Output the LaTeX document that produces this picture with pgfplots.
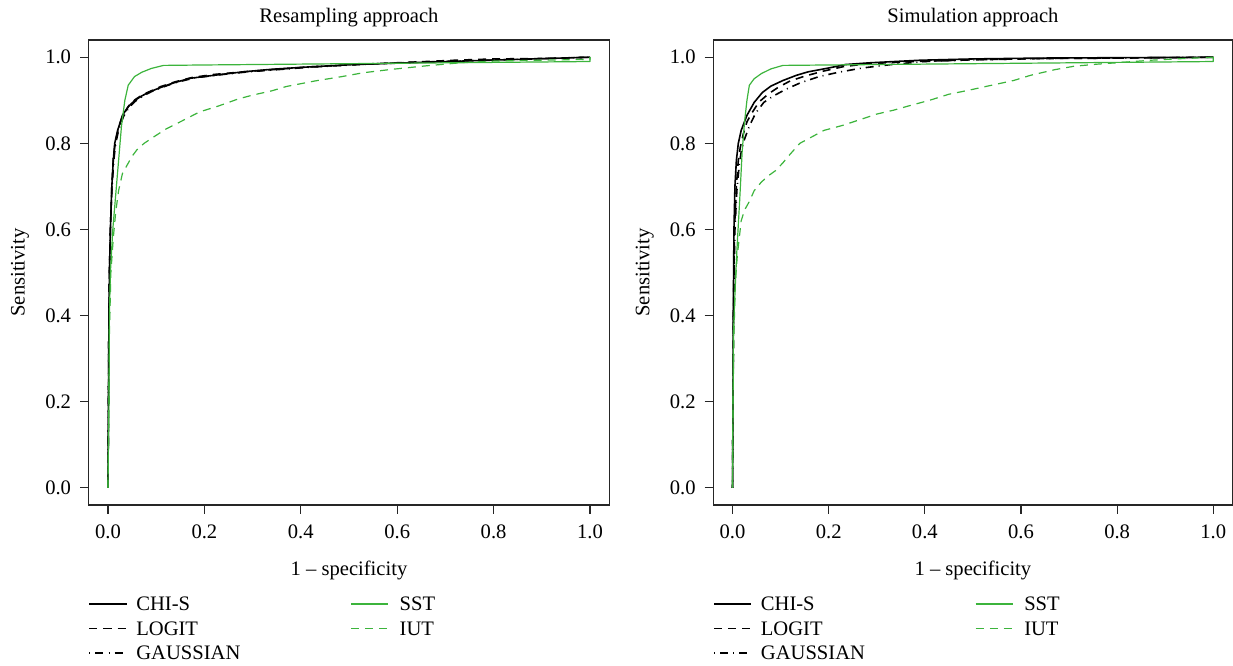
\documentclass[border=0pt]{standalone}
\usepackage{pgfplots}
\pgfplotsset{compat=1.18}
\usepackage{fontspec}
\setmainfont{Liberation Serif}
\definecolor{rgreen}{RGB}{60,180,60}
\newcommand{\ff}{\fontsize{10.3}{12.4}\selectfont}
\pgfplotsset{
  rocaxis/.style={
    scale only axis, width=260.3pt, height=232.5pt,
    xmin=-0.04, xmax=1.04, ymin=-0.04, ymax=1.04,
    xtick={0,0.2,0.4,0.6,0.8,1}, ytick={0,0.2,0.4,0.6,0.8,1},
    xticklabels={0.0,0.2,0.4,0.6,0.8,1.0},
    yticklabels={0.0,0.2,0.4,0.6,0.8,1.0},
    tick pos=left, tick align=outside, major tick length=4.3pt,
    axis line style={black!85, line width=0.6pt},
    tick style={black!85, line width=0.6pt},
    ticklabel style={font=\ff},
    label style={font=\ff},
    title style={font=\ff, at={(axis description cs:0.5,1)}, anchor=base, yshift=2.5pt},
    xlabel style={at={(axis description cs:0.5,0)}, anchor=base, yshift=-35pt},
    ylabel style={at={(axis description cs:-0.132,0.5)}, anchor=center},
    xticklabel style={yshift=-2pt},
    yticklabel style={xshift=-1pt},
    xlabel={1 -- specificity}, ylabel={Sensitivity},
    legend columns=2,
    legend cell align=left,
    legend image code/.code={\draw[##1,line cap=butt] (0pt,0pt) -- (18.5pt,0pt);},
    legend style={font=\ff, draw=none, fill=none, inner sep=0pt, outer sep=0pt,
      at={(axis description cs:0,-0.1983)}, anchor=north west,
      nodes={inner sep=0pt, text height=6.8pt, text depth=0pt},
      row sep=5.45pt,
      /tikz/column 1/.style={column sep=4.5pt},
      /tikz/column 2/.style={column sep=55pt},
      /tikz/column 3/.style={column sep=5.5pt}},
  },
  chis/.style={black, line width=0.8pt, line join=round},
  logit/.style={black, line width=0.8pt, dash pattern=on 4pt off 3pt, line join=round},
  gauss/.style={black, line width=0.8pt, dash pattern=on 0.5pt off 2.5pt on 4pt off 2.5pt, line join=round},
  sst/.style={rgreen, line width=0.6pt, line join=round},
  iut/.style={rgreen, line width=0.6pt, dash pattern=on 4pt off 3pt, line join=round},
}
\begin{document}
\begin{tikzpicture}
\useasboundingbox (0,0) rectangle (616.5pt,332.5pt);
% ---------------- Left panel ----------------
\begin{axis}[rocaxis, at={(44.35pt,80pt)}, anchor=south west, title={Resampling approach}]
\addlegendimage{chis}\addlegendentry{CHI-S}
\addlegendimage{sst}\addlegendentry{SST}
\addlegendimage{logit}\addlegendentry{LOGIT}
\addlegendimage{iut}\addlegendentry{IUT}
\addlegendimage{gauss}\addlegendentry{GAUSSIAN}
\addplot[chis, forget plot] coordinates {(0,0)(0.001,0.2)(0.002,0.4)(0.003,0.5)(0.005,0.6)(0.008,0.70)(0.011,0.76)(0.014,0.80)(0.02,0.83)(0.03,0.865)(0.042,0.885)(0.056,0.90)(0.07,0.91)(0.085,0.919)(0.11,0.93)(0.135,0.94)(0.17,0.951)(0.22,0.958)(0.28,0.966)(0.34,0.972)(0.41,0.977)(0.51,0.983)(0.62,0.987)(0.76,0.992)(0.88,0.996)(1,1)};
\addplot[logit, forget plot] coordinates {(0,0)(0.001,0.2)(0.002,0.4)(0.003,0.5)(0.005,0.6)(0.008,0.7)(0.011,0.765)(0.015,0.80)(0.021,0.832)(0.03,0.863)(0.043,0.887)(0.057,0.902)(0.072,0.913)(0.088,0.921)(0.11,0.932)(0.14,0.943)(0.175,0.953)(0.22,0.96)(0.28,0.966)(0.34,0.971)(0.41,0.977)(0.51,0.983)(0.62,0.988)(0.72,0.993)(0.8,0.996)(0.9,0.997)(1,1)};
\addplot[gauss, forget plot] coordinates {(0,0)(0.001,0.2)(0.002,0.4)(0.003,0.5)(0.005,0.6)(0.008,0.69)(0.012,0.76)(0.016,0.80)(0.022,0.83)(0.032,0.862)(0.044,0.884)(0.058,0.899)(0.073,0.91)(0.09,0.92)(0.115,0.931)(0.14,0.941)(0.18,0.952)(0.23,0.959)(0.29,0.966)(0.35,0.971)(0.42,0.977)(0.52,0.983)(0.63,0.988)(0.75,0.992)(0.88,0.996)(1,1)};
\addplot[sst, forget plot] coordinates {(0,0)(0.002,0.2)(0.003,0.4)(0.005,0.5)(0.010,0.6)(0.016,0.68)(0.022,0.76)(0.028,0.84)(0.035,0.90)(0.042,0.935)(0.055,0.955)(0.07,0.965)(0.09,0.974)(0.115,0.981)(0.2,0.982)(0.4,0.984)(0.6,0.986)(0.8,0.988)(1.0,0.990)(1.0,1.0)};
\addplot[iut, forget plot] coordinates {(0,0)(0.002,0.2)(0.003,0.36)(0.006,0.5)(0.011,0.58)(0.016,0.64)(0.022,0.69)(0.030,0.73)(0.040,0.75)(0.05,0.77)(0.06,0.785)(0.075,0.80)(0.095,0.815)(0.12,0.833)(0.15,0.85)(0.19,0.873)(0.23,0.887)(0.27,0.903)(0.30,0.912)(0.34,0.922)(0.37,0.932)(0.43,0.945)(0.48,0.954)(0.53,0.964)(0.59,0.972)(0.66,0.980)(0.73,0.987)(0.80,0.991)(0.9,0.993)(1.0,0.995)(1,1)};
\end{axis}
% ---------------- Right panel ----------------
\begin{axis}[rocaxis, at={(356.65pt,80pt)}, anchor=south west, width=259.6pt, title={Simulation approach}]
\addlegendimage{chis}\addlegendentry{CHI-S}
\addlegendimage{sst}\addlegendentry{SST}
\addlegendimage{logit}\addlegendentry{LOGIT}
\addlegendimage{iut}\addlegendentry{IUT}
\addlegendimage{gauss}\addlegendentry{GAUSSIAN}
\addplot[chis, forget plot] coordinates {(0,0)(0.001,0.2)(0.0015,0.4)(0.003,0.6)(0.005,0.70)(0.008,0.76)(0.012,0.80)(0.018,0.83)(0.03,0.865)(0.045,0.895)(0.062,0.918)(0.08,0.933)(0.105,0.946)(0.133,0.958)(0.157,0.966)(0.2,0.975)(0.235,0.983)(0.285,0.987)(0.39,0.993)(0.5,0.996)(0.64,0.998)(1,1)};
\addplot[logit, forget plot] coordinates {(0,0)(0.001,0.2)(0.002,0.4)(0.004,0.6)(0.008,0.70)(0.012,0.76)(0.016,0.79)(0.022,0.82)(0.03,0.85)(0.04,0.87)(0.055,0.896)(0.075,0.915)(0.095,0.93)(0.12,0.945)(0.15,0.956)(0.19,0.968)(0.23,0.978)(0.28,0.985)(0.38,0.99)(0.5,0.994)(0.65,0.997)(0.8,0.998)(1,1)};
\addplot[gauss, forget plot] coordinates {(0,0)(0.001,0.2)(0.002,0.4)(0.005,0.6)(0.009,0.69)(0.014,0.75)(0.018,0.78)(0.025,0.81)(0.035,0.84)(0.048,0.87)(0.065,0.895)(0.085,0.91)(0.11,0.925)(0.14,0.94)(0.18,0.955)(0.22,0.965)(0.27,0.975)(0.33,0.983)(0.40,0.99)(0.5,0.994)(0.65,0.997)(0.8,0.998)(1,1)};
\addplot[sst, forget plot] coordinates {(0,0)(0.001,0.2)(0.002,0.36)(0.005,0.45)(0.009,0.55)(0.015,0.67)(0.02,0.78)(0.025,0.85)(0.03,0.90)(0.035,0.935)(0.045,0.95)(0.06,0.962)(0.08,0.973)(0.105,0.981)(0.2,0.982)(0.4,0.984)(0.6,0.986)(0.8,0.988)(1,0.990)(1,1)};
\addplot[iut, forget plot] coordinates {(0,0)(0.001,0.2)(0.003,0.36)(0.006,0.48)(0.01,0.54)(0.014,0.58)(0.018,0.62)(0.025,0.645)(0.035,0.665)(0.045,0.69)(0.06,0.71)(0.075,0.725)(0.09,0.737)(0.105,0.755)(0.12,0.775)(0.14,0.8)(0.16,0.812)(0.19,0.83)(0.23,0.842)(0.265,0.855)(0.30,0.868)(0.335,0.877)(0.37,0.888)(0.41,0.9)(0.45,0.914)(0.49,0.923)(0.535,0.934)(0.585,0.946)(0.62,0.958)(0.67,0.971)(0.71,0.979)(0.76,0.984)(0.81,0.988)(0.87,0.993)(0.92,0.996)(1,1)};
\end{axis}
\end{tikzpicture}
\end{document}
